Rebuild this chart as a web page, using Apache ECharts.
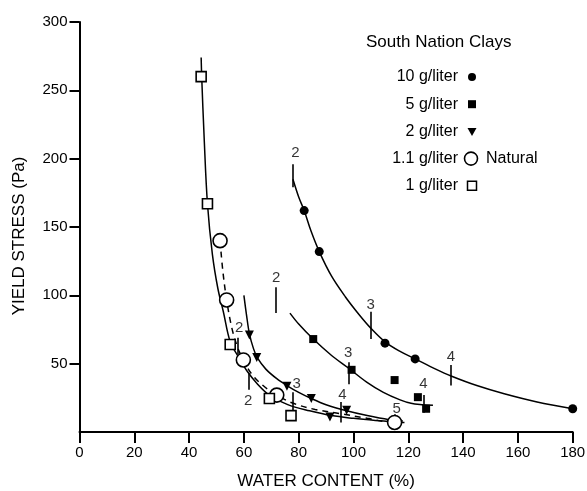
<!DOCTYPE html>
<html><head><meta charset="utf-8">
<script src="https://cdn.jsdelivr.net/npm/echarts@6/dist/echarts.min.js"></script>
<style>html,body{margin:0;padding:0;background:#fff}#c{width:587px;height:491px}</style>
</head><body><div id="c"></div>
<script>
// ---- data ----
const xTicks = [0, 20, 40, 60, 80, 100, 120, 140, 160, 180];
const yTicks = [50, 100, 150, 200, 250, 300];

// measured points
const pts10  = [[82, 162], [87.5, 132], [111.5, 65], [122.5, 53.5], [180, 17]];
const pts5   = [[85.3, 68], [99.3, 45.5], [115, 38], [123.5, 25.5], [126.5, 17]];
const pts2   = [[62, 71], [64.7, 54.5], [75.7, 33.5], [84.6, 24.5], [91.4, 11], [97.5, 16]];
const ptsNat = [[51.3, 140], [53.7, 96.6], [59.8, 52.7], [72, 27], [115, 7]];
const pts1   = [[44.4, 260], [46.7, 167], [55, 64], [69.3, 24.5], [77.2, 12]];

// hand-drawn fitted curves
const curve10 = [[77.9,185],[80,172],[82,162],[84.5,147],[87.5,132],[92,114],[97,99],[102,86],[106.3,76],[111.5,66],[117,59],[122.5,53.5],[130,46],[135.6,41],[145,34],[155,28],[167,22],[180,17]];
const curve5  = [[76.8,87],[80,79],[85.3,68],[92,56],[98,47],[104.8,36.5],[110.9,29],[117,23.5],[121,21],[125,20],[129,19.5]];
const curve2  = [[60,100],[61,85],[62,72],[63.5,61],[65,54],[68,46],[72,39],[75.7,34],[80,29],[84.6,24.5],[90,20],[97.5,15.5],[105,12],[113,9],[118,8]];
const curve1  = [[44.4,274],[44.6,260],[45.5,215],[46.7,167],[48.5,130],[50.5,105],[52.5,88],[55,66],[58,55],[61,45],[65,35],[69.3,27],[76,20],[84,15.5],[92,12],[100,10],[108,8.5],[115,7.5]];
const curveNat= [[51.3,140],[52.3,118],[53.7,96.6],[55.5,77],[57.5,63],[59.8,52.7],[63,42],[67,34],[72,27],[78,21],[86,16.5],[95,13.5],[105,10],[115,7],[120,7]];

// numbered annotations: [x, y, text]
const notes = [[78.8,204,'2'],[106.3,93,'3'],[135.6,55,'4'],
               [71.8,113,'2'],[98.1,58,'3'],[125.5,35,'4'],
               [58.3,76,'2'],[79.3,35.5,'3'],[96,27,'4'],
               [61.6,23,'2'],[115.8,17,'5']];
// annotation tick marks: [x, yFrom, yTo]
const marks = [[77.9,196,179],[106.3,88,68],[135.6,49,34],
               [71.8,106,87],[98.1,51,35],[125.5,27,14],
               [57.8,69,57],[78,29,9],[95.5,22,7],
               [61.6,43,31],[115,13,2]];

const legendTitle = 'South Nation Clays';
const legendRows = ['10 g/liter', '5 g/liter', '2 g/liter', '1.1 g/liter', '1 g/liter'];
const legendExtra = 'Natural';
const yName = 'YIELD STRESS (Pa)';
const xName = 'WATER CONTENT (%)';

// ---- chart ----
const FONT = '"Liberation Sans", Arial, Helvetica, sans-serif';
const chart = echarts.init(document.getElementById('c'), null, {renderer: 'canvas'});

function lineSeries(data, dashed) {
  return {type: 'line', data: data, smooth: 0.35, showSymbol: false, symbol: 'none',
    lineStyle: {color: '#000', width: 1.5, type: dashed ? [6, 5] : 'solid'}, z: 2, silent: true};
}
function scatterSeries(data, symbol, size, filled, rotate) {
  return {type: 'scatter', data: data, symbol: symbol, symbolSize: size, symbolRotate: rotate || 0,
    itemStyle: {color: filled ? '#000' : '#fff', borderColor: '#000', borderWidth: filled ? 0 : 1.6, opacity: 1},
    z: 5, silent: true};
}

const legendX = 458, legendY0 = 77, legendDy = 27.2;
const graphics = [
  {type: 'text', x: 366, y: 42, style: {text: legendTitle, font: '17px ' + FONT, fill: '#000', verticalAlign: 'middle'}},
  {type: 'text', x: 19, y: 236, rotation: Math.PI / 2, style: {text: yName, font: '17px ' + FONT, fill: '#000', align: 'center', verticalAlign: 'middle'}}
];
const legSyms = [
  {type: 'circle', shape: {cx: 0, cy: 0, r: 4}, style: {fill: '#000'}},
  {type: 'rect', shape: {x: -4, y: -4, width: 8, height: 8}, style: {fill: '#000'}},
  {type: 'polygon', shape: {points: [[-4.5, -3.5], [4.5, -3.5], [0, 4.5]]}, style: {fill: '#000'}},
  {type: 'circle', shape: {cx: 0, cy: 0, r: 6.5}, style: {fill: '#fff', stroke: '#000', lineWidth: 1.6}},
  {type: 'rect', shape: {x: -4.5, y: -4.5, width: 9, height: 9}, style: {fill: '#fff', stroke: '#000', lineWidth: 1.5}}
];
legendRows.forEach((t, i) => {
  const y = legendY0 + i * legendDy;
  graphics.push({type: 'text', x: legendX, y: y, style: {text: t, font: '16px ' + FONT, fill: '#000', align: 'right', verticalAlign: 'middle'}});
  const s = Object.assign({}, legSyms[i]);
  s.x = i === 3 ? 471 : 472; s.y = y;
  graphics.push(s);
});
graphics.push({type: 'text', x: 486, y: legendY0 + 3 * legendDy, style: {text: legendExtra, font: '16px ' + FONT, fill: '#000', verticalAlign: 'middle'}});

const option = {
  animation: false,
  backgroundColor: '#fff',
  grid: {left: 79.5, right: 14.3, top: 22, bottom: 59, containLabel: false, outerBoundsMode: 'none'},
  xAxis: {
    type: 'value', min: 0, max: 180, interval: 20,
    name: xName, nameLocation: 'middle', nameGap: 41,
    nameTextStyle: {fontFamily: FONT, fontSize: 17, color: '#000'},
    axisLine: {show: true, onZero: false, lineStyle: {color: '#000', width: 2}},
    axisTick: {show: true, inside: false, length: 11, lineStyle: {color: '#000', width: 2}, customValues: xTicks},
    axisLabel: {color: '#000', fontFamily: FONT, fontSize: 15, margin: 13, customValues: xTicks},
    splitLine: {show: false}
  },
  yAxis: {
    type: 'value', min: 0, max: 300, interval: 50,
    axisLine: {show: true, onZero: false, lineStyle: {color: '#000', width: 2}},
    axisTick: {show: true, inside: false, length: 10, lineStyle: {color: '#000', width: 2}, customValues: yTicks},
    axisLabel: {color: '#000', fontFamily: FONT, fontSize: 15, margin: 12, customValues: yTicks},
    splitLine: {show: false}
  },
  graphic: graphics,
  series: [
    lineSeries(curve10), lineSeries(curve5), lineSeries(curve2), lineSeries(curve1), lineSeries(curveNat, true),
    {type: 'lines', coordinateSystem: 'cartesian2d', polyline: false, silent: true, z: 3,
     lineStyle: {color: '#000', width: 1.6, opacity: 1, curveness: 0},
     data: marks.map(m => ({coords: [[m[0], m[1]], [m[0], m[2]]]}))},
    {type: 'scatter', data: notes, symbolSize: 0, silent: true, z: 6,
     label: {show: true, position: 'inside', formatter: p => p.value[2], color: '#000', fontFamily: FONT, fontSize: 15}},
    scatterSeries(pts10, 'circle', 9, true),
    scatterSeries(pts5, 'rect', 8, true),
    scatterSeries(pts2, 'triangle', 9, true, 180),
    scatterSeries(ptsNat, 'circle', 14, false),
    scatterSeries(pts1, 'rect', 10, false)
  ]
};
chart.setOption(option);
</script></body></html>
